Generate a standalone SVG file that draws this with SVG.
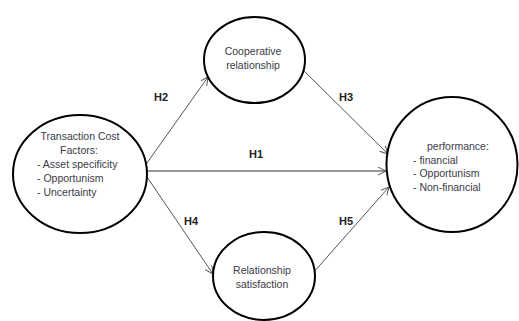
<svg xmlns="http://www.w3.org/2000/svg" width="519" height="321" viewBox="0 0 519 321">
<style>
.node{fill:#fff;stroke:#000;stroke-width:2}
.t{font-family:"Liberation Sans",Arial,sans-serif;font-size:10.5px;fill:#3a3a48}
.c{text-anchor:middle}
.lbl{font-family:"Liberation Sans",Arial,sans-serif;font-size:11px;font-weight:bold;fill:#222;text-anchor:middle}
.edge{stroke:#555;stroke-width:1;fill:none;marker-end:url(#arr)}
</style>
<defs>
<marker id="arr" markerUnits="userSpaceOnUse" markerWidth="10" markerHeight="10" refX="8" refY="4" orient="auto">
<path d="M0,0 L8,4 L0,8" fill="none" stroke="#555" stroke-width="1"/>
</marker>
</defs>
<rect width="519" height="321" fill="#fff"/>
<g id="connectors">
<line class="edge" x1="147" y1="163" x2="208" y2="77"/>
<line class="edge" x1="147" y1="171" x2="386" y2="171" style="stroke:#333"/>
<line class="edge" x1="147" y1="177" x2="213" y2="274"/>
<line class="edge" x1="302" y1="69" x2="388" y2="154"/>
<line class="edge" x1="313" y1="273" x2="389" y2="187"/>
<text class="lbl" x="161" y="101">H2</text>
<text class="lbl" x="346" y="101">H3</text>
<text class="lbl" x="256" y="158">H1</text>
<text class="lbl" x="191" y="225">H4</text>
<text class="lbl" x="346" y="225">H5</text>
</g>
<g id="transaction">
<ellipse class="node" cx="80" cy="174" rx="67" ry="59"/>
<text class="t c" x="80" y="140">Transaction Cost</text>
<text class="t c" x="79" y="154">Factors:</text>
<text class="t" x="37" y="168">- Asset specificity</text>
<text class="t" x="37" y="182">- Opportunism</text>
<text class="t" x="37" y="196">- Uncertainty</text>
</g>
<g id="cooperative">
<ellipse class="node" cx="254.5" cy="60" rx="50.5" ry="43"/>
<text class="t c" x="253" y="55">Cooperative</text>
<text class="t c" x="253" y="68.5">relationship</text>
</g>
<g id="satisfaction">
<ellipse class="node" cx="264" cy="276" rx="51" ry="44"/>
<text class="t c" x="262" y="274">Relationship</text>
<text class="t c" x="262" y="287.5">satisfaction</text>
</g>
<g id="performance">
<ellipse class="node" cx="452" cy="164.5" rx="65.5" ry="67.5"/>
<text class="t" x="427" y="150">performance:</text>
<text class="t" x="413" y="163.5">- financial</text>
<text class="t" x="413" y="177">- Opportunism</text>
<text class="t" x="413" y="190.5">- Non-financial</text>
</g>
</svg>
